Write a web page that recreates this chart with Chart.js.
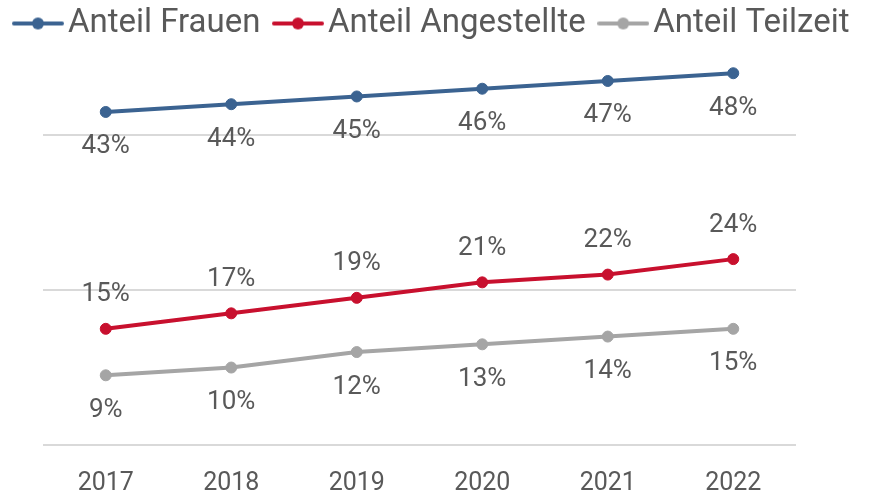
<!DOCTYPE html>
<html>
<head>
<meta charset="utf-8">
<script src="https://cdn.jsdelivr.net/npm/chart.js@4/dist/chart.umd.min.js"></script>
<style>
  html, body { margin: 0; padding: 0; background: #fff; }
  #wrap { width: 874px; height: 496px; }
</style>
</head>
<body>
<div id="wrap"><canvas id="anteilChart"></canvas></div>
<script>
const years = ["2017", "2018", "2019", "2020", "2021", "2022"];
const anteilFrauen = [43, 44, 45, 46, 47, 48];
const anteilAngestellte = [15, 17, 19, 21, 22, 24];
const anteilTeilzeit = [9, 10, 12, 13, 14, 15];
const gridTicks = [0, 20, 40];

const textColor = "#595959";
const fontFamily = "Roboto, 'DejaVu Sans', sans-serif";

// kleines Legendensymbol: Linie mit Punkt
function legendMarker(color) {
  const c = document.createElement("canvas");
  c.width = 52;
  c.height = 14;
  const g = c.getContext("2d");
  g.strokeStyle = color;
  g.lineWidth = 4;
  g.lineCap = "round";
  g.beginPath();
  g.moveTo(2, 7);
  g.lineTo(50, 7);
  g.stroke();
  g.fillStyle = color;
  g.beginPath();
  g.arc(26, 7, 6, 0, Math.PI * 2);
  g.fill();
  return c;
}

// Prozentwerte an die Punkte schreiben (oben oder unten)
const valueLabels = {
  id: "valueLabels",
  afterDatasetsDraw(chart) {
    const ctx = chart.ctx;
    ctx.save();
    ctx.font = "26px " + fontFamily;
    ctx.fillStyle = textColor;
    ctx.textAlign = "center";
    ctx.textBaseline = "middle";
    chart.data.datasets.forEach((ds, i) => {
      const meta = chart.getDatasetMeta(i);
      meta.data.forEach((pt, j) => {
        const dy = ds.labelPos === "above" ? -34 : 35;
        ctx.fillText(ds.data[j] + "%", pt.x, pt.y + dy);
      });
    });
    ctx.restore();
  }
};

const series = [
  { label: "Anteil Frauen", data: anteilFrauen, color: "#3B6391", labelPos: "below" },
  { label: "Anteil Angestellte", data: anteilAngestellte, color: "#C8102E", labelPos: "above" },
  { label: "Anteil Teilzeit", data: anteilTeilzeit, color: "#A5A5A5", labelPos: "below" }
];

new Chart(document.getElementById("anteilChart"), {
  type: "line",
  data: {
    labels: years,
    datasets: series.map(s => ({
      label: s.label,
      data: s.data,
      labelPos: s.labelPos,
      borderColor: s.color,
      backgroundColor: s.color,
      pointBackgroundColor: s.color,
      pointBorderColor: s.color,
      borderWidth: 4,
      pointRadius: 5.5,
      pointBorderWidth: 1,
      tension: 0
    }))
  },
  options: {
    responsive: true,
    maintainAspectRatio: false,
    animation: false,
    layout: { padding: { left: 0, right: 0, top: -17, bottom: 0 } },
    plugins: {
      tooltip: { enabled: false },
      legend: {
        position: "top",
        labels: {
          color: textColor,
          font: { family: fontFamily, size: 33 },
          usePointStyle: true,
          pointStyleWidth: 27,
          boxHeight: 14,
          padding: 24,
          generateLabels(chart) {
            return chart.data.datasets.map((ds, i) => ({
              text: ds.label,
              fontColor: textColor,
              pointStyle: legendMarker(ds.borderColor),
              datasetIndex: i,
              lineWidth: 0,
              strokeStyle: "transparent",
              fillStyle: ds.borderColor
            }));
          }
        }
      }
    },
    scales: {
      x: {
        offset: true,
        grid: { display: false, drawTicks: false },
        border: { display: false },
        ticks: {
          color: textColor,
          padding: 24,
          font: { family: fontFamily, size: 25 }
        },
        afterFit(axis) { axis.height = 51; }
      },
      y: {
        min: 0,
        max: 51,
        afterBuildTicks(axis) {
          axis.ticks = gridTicks.map(v => ({ value: v }));
        },
        afterFit(axis) { axis.width = 43; },
        ticks: { display: false },
        border: { display: false },
        grid: { color: "#D9D9D9", lineWidth: 2, drawTicks: false }
      },
      // leerer Rand rechts neben der Zeichenfläche
      rand: {
        position: "right",
        display: true,
        afterFit(axis) { axis.width = 78; },
        ticks: { display: false },
        border: { display: false },
        grid: { display: false, drawTicks: false }
      }
    }
  },
  plugins: [valueLabels]
});
</script>
</body>
</html>
